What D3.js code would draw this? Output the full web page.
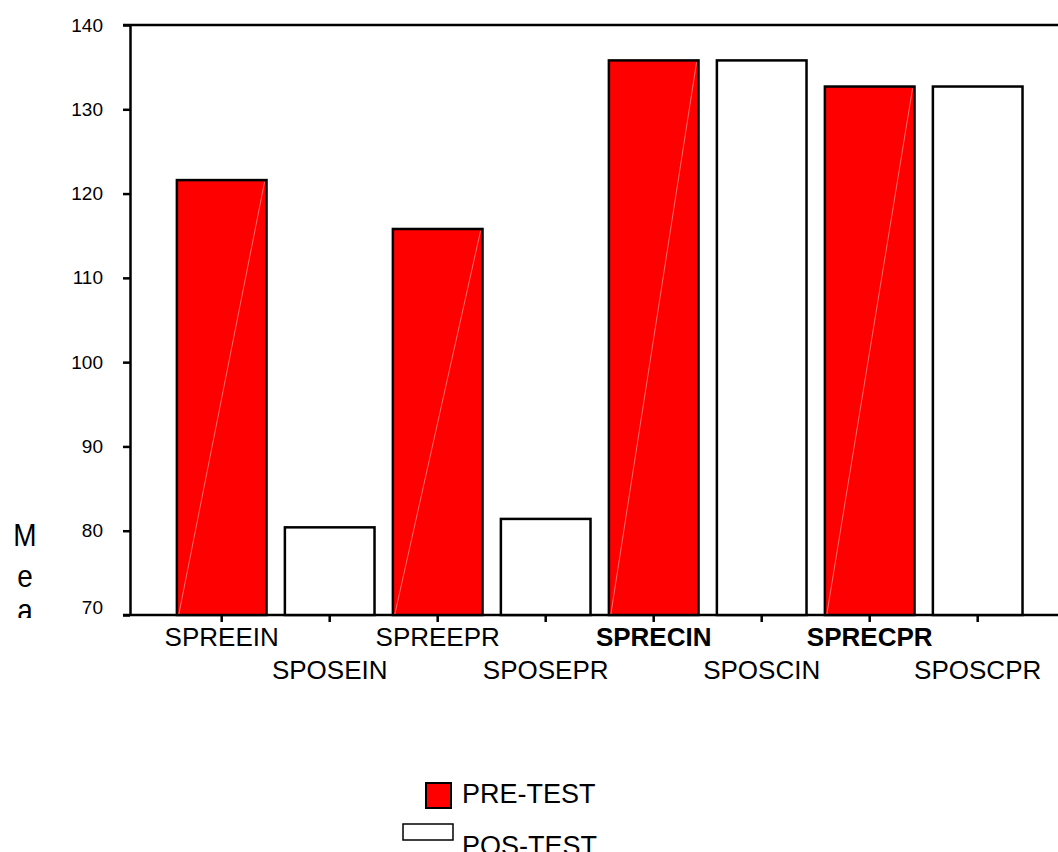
<!DOCTYPE html>
<html>
<head>
<meta charset="utf-8">
<script src="https://cdn.jsdelivr.net/npm/d3@7"></script>
<style>
  body { margin: 0; background: #fff; }
  text { font-family: "Liberation Sans", Arial, sans-serif; fill: #000; }
</style>
</head>
<body>
<div id="chart-container"></div>
<script>
// values
const categories = ["SPREEIN", "SPOSEIN", "SPREEPR", "SPOSEPR", "SPRECIN", "SPOSCIN", "SPRECPR", "SPOSCPR"];
const means = [121.6, 80.4, 115.8, 81.4, 135.8, 135.8, 132.7, 132.7];
const phases = ["PRE-TEST", "POS-TEST", "PRE-TEST", "POS-TEST", "PRE-TEST", "POS-TEST", "PRE-TEST", "POS-TEST"];
const boldLabels = ["SPRECIN", "SPRECPR"];
const yTicks = [70, 80, 90, 100, 110, 120, 130, 140];
const legendItems = ["PRE-TEST", "POS-TEST"];
const yTitle = ["M", "e", "a", "n"];

const W = 1058, H = 852;
const axisX = 130, plotTop = 25, plotBottom = 615;

let svg = d3.select("#chart-container")
    .append("svg")
    .attr("width", W)
    .attr("height", H);

let fillColor = d3.scaleOrdinal()
    .domain(legendItems)
    .range(["#ff0000", "#ffffff"]);

// Y-Axis
let yScale = d3.scaleLinear()
    .domain([70, 140])
    .range([plotBottom, plotTop]);
let yAxis = d3.axisLeft(yScale)
    .tickValues(yTicks)
    .tickSize(7)
    .tickSizeOuter(0)
    .tickPadding(20);
let yAxisGroup = svg.append("g")
    .attr("transform", `translate(${axisX},0)`)
    .call(yAxis);
yAxisGroup.select(".domain").attr("stroke-width", 2.5);
yAxisGroup.selectAll(".tick line").attr("stroke-width", 2.5);
yAxisGroup.selectAll(".tick text")
    .style("font-size", "19px")
    .style("font-family", '"Liberation Sans", Arial, sans-serif');
// the lowest label sits a little above its tick, clear of the x axis
yAxisGroup.selectAll(".tick text")
    .filter(d => d === 70)
    .attr("y", -8);

// X-Axis (band centres carry the ticks)
let xScale = d3.scaleBand()
    .domain(categories)
    .range([167.7, 1031.7])
    .paddingInner(0.17)
    .paddingOuter(0.085);
let xAxis = d3.axisBottom(xScale)
    .tickSize(7)
    .tickSizeOuter(0)
    .tickFormat("");
let xAxisGroup = svg.append("g")
    .attr("transform", `translate(0,${plotBottom})`)
    .call(xAxis);
xAxisGroup.select(".domain").remove();
xAxisGroup.selectAll(".tick line").attr("stroke-width", 2.5);

// frame lines: top and bottom run off the right edge
[plotTop, plotBottom].forEach(y => {
    svg.append("line")
        .attr("x1", axisX - 7).attr("x2", W)
        .attr("y1", y).attr("y2", y)
        .attr("stroke", "#000")
        .attr("stroke-width", 2.5);
});

// bars
let bars = svg.append("g").selectAll(".bar")
    .data(categories.map((c, i) => ({cat: c, value: means[i], phase: phases[i]})))
    .enter();

bars.append("rect")
    .attr("class", "bar")
    .attr("x", d => xScale(d.cat))
    .attr("y", d => yScale(d.value))
    .attr("width", xScale.bandwidth())
    .attr("height", d => yScale(70) - yScale(d.value))
    .attr("fill", d => fillColor(d.phase))
    .attr("stroke", "#000")
    .attr("stroke-width", 2.5);

// faint diagonal seam inside the red bars
bars.filter(d => d.phase === "PRE-TEST")
    .append("line")
    .attr("x1", d => xScale(d.cat) + 2)
    .attr("y1", yScale(70) - 1)
    .attr("x2", d => xScale(d.cat) + xScale.bandwidth() - 2)
    .attr("y2", d => yScale(d.value) + 2)
    .attr("stroke", "#ff9a9a")
    .attr("stroke-width", 0.7);

// staggered category labels
svg.append("g").selectAll(".x-label")
    .data(categories)
    .enter().append("text")
    .attr("class", "x-label")
    .attr("x", d => xScale(d) + xScale.bandwidth() / 2)
    .attr("y", (d, i) => i % 2 === 0 ? 646 : 679)
    .attr("text-anchor", "middle")
    .style("font-size", "26px")
    .style("font-weight", d => boldLabels.includes(d) ? "bold" : "normal")
    .text(d => d);

// vertical y title, cut off at the bottom of the plot
const titleBase = [546, 587, 621, 660];
svg.append("clipPath").attr("id", "title-clip")
    .append("rect")
    .attr("x", 0).attr("y", 0)
    .attr("width", 60).attr("height", 618);
svg.append("g")
    .attr("clip-path", "url(#title-clip)")
    .selectAll("text")
    .data(yTitle)
    .enter().append("text")
    .attr("x", 25)
    .attr("y", (d, i) => titleBase[i])
    .attr("text-anchor", "middle")
    .attr("transform", (d, i) => `translate(0,${titleBase[i]}) scale(1,1.15) translate(0,${-titleBase[i]})`)
    .style("font-size", "28px")
    .text(d => d);

// legend
let legend = svg.append("g");
legend.append("rect")
    .attr("x", 426).attr("y", 783)
    .attr("width", 25).attr("height", 25)
    .attr("fill", fillColor("PRE-TEST"))
    .attr("stroke", "#000")
    .attr("stroke-width", 2);
legend.append("rect")
    .attr("x", 403).attr("y", 824)
    .attr("width", 50).attr("height", 16)
    .attr("fill", fillColor("POS-TEST"))
    .attr("stroke", "#000")
    .attr("stroke-width", 1.5);
legend.selectAll(".legend-text")
    .data(legendItems)
    .enter().append("text")
    .attr("class", "legend-text")
    .attr("x", 462)
    .attr("y", (d, i) => 803 + i * 52)
    .style("font-size", "27px")
    .text(d => d);
</script>
</body>
</html>
